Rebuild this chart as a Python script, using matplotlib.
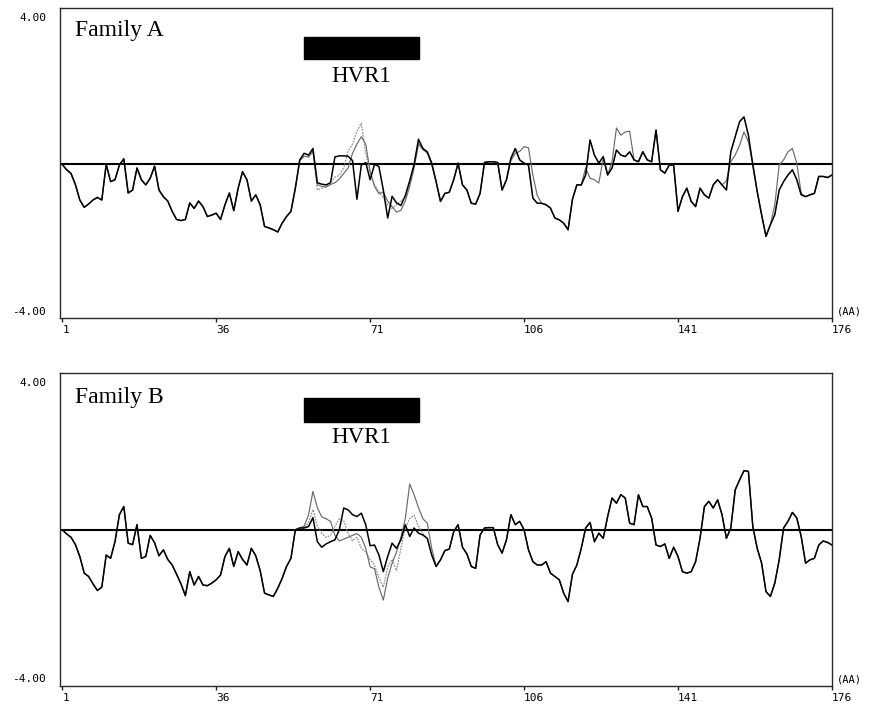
import numpy as np
import matplotlib
matplotlib.use("Agg")
import matplotlib.pyplot as plt
from matplotlib.patches import Rectangle

# Residue positions (amino acids 1..176)
residues = np.arange(1, 177)

# Hydropathy profile, Family A, reference isolate
family_a_ref = [
    0.00, -0.15, -0.25, -0.55, -0.97, -1.17, -1.08, -0.97, -0.90, -0.97,
    0.00, -0.47, -0.42, -0.02, 0.15, -0.78, -0.70, -0.10, -0.42, -0.56,
    -0.38, -0.05, -0.70, -0.88, -1.00, -1.28, -1.50, -1.53, -1.50, -1.05,
    -1.20, -1.00, -1.15, -1.42, -1.38, -1.33, -1.50, -1.10, -0.78, -1.26,
    -0.65, -0.20, -0.42, -1.00, -0.83, -1.10, -1.69, -1.73, -1.78, -1.84,
    -1.60, -1.42, -1.28, -0.65, 0.12, 0.30, 0.25, 0.43, -0.50, -0.54,
    -0.56, -0.50, 0.20, 0.23, 0.23, 0.22, 0.10, -0.95, -0.02, 0.05,
    -0.42, 0.00, -0.06, -0.70, -1.46, -0.87, -1.05, -1.12, -0.85, -0.45,
    0.00, 0.68, 0.43, 0.34, 0.03, -0.47, -1.01, -0.79, -0.76, -0.42,
    0.03, -0.56, -0.70, -1.06, -1.08, -0.79, 0.05, 0.07, 0.07, 0.05,
    -0.70, -0.42, 0.16, 0.43, 0.12, 0.03, -0.02, -0.92, -1.06, -1.06,
    -1.10, -1.19, -1.46, -1.51, -1.60, -1.78, -0.95, -0.56, -0.56, -0.29,
    0.66, 0.25, 0.03, 0.21, -0.29, -0.10, 0.39, 0.25, 0.21, 0.34,
    0.12, 0.07, 0.34, 0.12, 0.07, 0.93, -0.15, -0.24, -0.02, -0.02,
    -1.28, -0.88, -0.65, -1.01, -1.15, -0.65, -0.83, -0.92, -0.56, -0.42,
    -0.56, -0.70, 0.34, 0.75, 1.16, 1.29, 0.79, -0.02, -0.74, -1.37,
    -1.96, -1.64, -1.37, -0.70, -0.47, -0.29, -0.15, -0.42, -0.83, -0.88,
    -0.83, -0.79, -0.33, -0.33, -0.36, -0.29,
]

# Family A, variant 1: values where it departs from the reference (start residue -> values)
family_a_var1_segments = {
    55: [0.10, 0.22, 0.20, 0.35, -0.55, -0.60, -0.62, -0.55, -0.50, -0.40,
         -0.25, -0.10, 0.30, 0.55, 0.75, 0.55, -0.20, -0.60, -0.80, -0.75,
         -1.00, -1.15, -1.30, -1.25, -1.00, -0.60, -0.10, 0.55, 0.40, 0.30, 0.00],
    103: [0.10, 0.30, 0.35, 0.48, 0.45, -0.30, -0.85],
    120: [-0.10, -0.38, -0.42, -0.51, 0.16, -0.29, 0.07, 0.99, 0.79, 0.88, 0.90, 0.12],
    152: [-0.45, 0.07, 0.25, 0.52, 0.88, 0.61, 0.03],
    163: [-1.10, -0.02, 0.12, 0.34, 0.43, 0.03, -0.79],
}

# Family A, variant 2 (HVR1 only)
family_a_var2_segments = {
    55: [0.10, 0.22, 0.20, 0.35, -0.70, -0.65, -0.60, -0.50, -0.35, -0.30,
         -0.10, 0.35, 0.55, 0.90, 1.11, 0.30, -0.20, -0.55, -0.75, -0.90,
         -1.10, -1.20, -1.10, -1.00, -0.90, -0.50, 0.00, 0.60, 0.43],
}

# Hydropathy profile, Family B, reference isolate
family_b_ref = [
    0.00, -0.11, -0.20, -0.40, -0.72, -1.17, -1.26, -1.46, -1.64, -1.55,
    -0.68, -0.77, -0.32, 0.41, 0.63, -0.36, -0.40, 0.14, -0.77, -0.72,
    -0.15, -0.35, -0.70, -0.54, -0.80, -0.95, -1.20, -1.46, -1.78, -1.13,
    -1.49, -1.26, -1.49, -1.51, -1.44, -1.35, -1.22, -0.72, -0.50, -0.99,
    -0.59, -0.80, -0.95, -0.50, -0.70, -1.10, -1.71, -1.76, -1.80, -1.58,
    -1.31, -0.99, -0.77, 0.00, 0.05, 0.05, 0.09, 0.33, -0.32, -0.47,
    -0.38, -0.32, -0.27, 0.00, 0.59, 0.54, 0.41, 0.36, 0.45, 0.14,
    -0.43, -0.41, -0.68, -1.13, -0.72, -0.36, -0.50, -0.27, 0.14, -0.18,
    0.05, -0.09, -0.14, -0.23, -0.68, -0.99, -0.81, -0.56, -0.52, -0.05,
    0.14, -0.47, -0.65, -0.99, -1.04, -0.14, 0.05, 0.06, 0.06, -0.40,
    -0.63, -0.27, 0.41, 0.14, 0.23, 0.00, -0.54, -0.86, -0.95, -0.95,
    -0.86, -1.17, -1.26, -1.35, -1.71, -1.94, -1.20, -0.95, -0.50, 0.05,
    0.20, -0.32, -0.09, -0.23, 0.36, 0.86, 0.72, 0.95, 0.86, 0.18,
    0.14, 0.95, 0.63, 0.63, 0.32, -0.41, -0.45, -0.38, -0.77, -0.47,
    -0.72, -1.13, -1.17, -1.13, -0.86, -0.23, 0.63, 0.77, 0.59, 0.81,
    0.41, -0.23, 0.05, 1.08, 1.35, 1.60, 1.58, 0.09, -0.50, -0.90,
    -1.67, -1.80, -1.44, -0.81, 0.05, 0.23, 0.47, 0.32, -0.18, -0.90,
    -0.81, -0.77, -0.41, -0.30, -0.34, -0.41,
]

family_b_var1_segments = {
    56: [0.10, 0.40, 1.04, 0.60, 0.35, 0.30, 0.23, -0.15, -0.30, -0.25,
         -0.20, -0.15, -0.10, -0.20, -0.50, -1.00, -1.05, -1.55, -1.90, -1.30,
         -0.90, -0.60, -0.20, 0.30, 1.24, 0.95, 0.60, 0.30, 0.18, -0.50, -0.99],
}

family_b_var2_segments = {
    56: [0.05, 0.20, 0.55, 0.10, -0.10, -0.20, -0.15, 0.10, 0.30, 0.25,
         -0.10, -0.30, -0.20, -0.50, -0.60, -0.80, -0.95, -1.30, -1.55, -1.00,
         -0.80, -1.10, -0.50, 0.05, 0.30, 0.40, 0.10, -0.10],
}

# Hypervariable region 1 (residue span)
hvr1_span = (56, 82)

x_ticks = [1, 36, 71, 106, 141, 176]
y_ticks = [-4.0, 4.0]


def apply_segments(base, segments):
    out = np.array(base, dtype=float)
    for start, vals in segments.items():
        out[start - 1:start - 1 + len(vals)] = vals
    return out


mono = "DejaVu Sans Mono"
serif = "Liberation Serif"

fig = plt.figure(figsize=(8.71, 7.08), dpi=100)
fig.patch.set_facecolor("white")

panels = [
    dict(rect=[0.0689, 0.5508, 0.8863, 0.4379], ylim=(-4.18, 4.25), title="Family A",
         ref=family_a_ref, var1=family_a_var1_segments, var2=family_a_var2_segments,
         bar=(2.87, 3.46), hvr_text_y=2.25, title_y=0.91),
    dict(rect=[0.0689, 0.0311, 0.8863, 0.4421], ylim=(-4.22, 4.24), title="Family B",
         ref=family_b_ref, var1=family_b_var1_segments, var2=family_b_var2_segments,
         bar=(2.92, 3.57), hvr_text_y=2.36, title_y=0.905),
]

for p in panels:
    ax = fig.add_axes(p["rect"])
    ax.set_xlim(0.5, 176)
    ax.set_ylim(*p["ylim"])

    ref = np.array(p["ref"], dtype=float)
    v1 = apply_segments(ref, p["var1"])
    v2 = apply_segments(ref, p["var2"])

    ax.axhline(0, color="black", lw=1.5, zorder=2)
    ax.plot(residues, v2, color="#8c8c8c", lw=0.85, ls=(0, (1.5, 1.0)), zorder=3)
    ax.plot(residues, v1, color="#6a6a6a", lw=0.85, zorder=3)
    ax.plot(residues, ref, color="black", lw=1.1, zorder=4)

    # HVR1 marker bar and label
    b0, b1 = p["bar"]
    ax.add_patch(Rectangle((hvr1_span[0], b0), hvr1_span[1] - hvr1_span[0], b1 - b0,
                           facecolor="black", edgecolor="black", zorder=5))
    ax.text((hvr1_span[0] + hvr1_span[1]) / 2, p["hvr_text_y"], "HVR1",
            ha="center", va="baseline", fontsize=16.5, family=serif)

    ax.text(0.02, p["title_y"], p["title"], transform=ax.transAxes,
            ha="left", va="baseline", fontsize=17, family=serif)

    ax.set_xticks(x_ticks)
    ax.set_xticklabels([str(t) for t in x_ticks], family=mono, fontsize=8)
    for lbl in ax.get_xticklabels():
        lbl.set_ha("left")
    ax.tick_params(axis="x", length=3, width=1, direction="out", pad=2, color="#222222")

    ax.set_yticks(y_ticks)
    ax.set_yticklabels([f"{t:.2f}" for t in y_ticks], family=mono, fontsize=8)
    ax.tick_params(axis="y", length=0, pad=10)

    ax.text(1.006, 0.02, "(AA)", transform=ax.transAxes, ha="left", va="center",
            family=mono, fontsize=7.5)

    for s in ax.spines.values():
        s.set_color("#2a2a2a")
        s.set_linewidth(1.0)

fig.savefig("out.png", dpi=100, facecolor="white")
